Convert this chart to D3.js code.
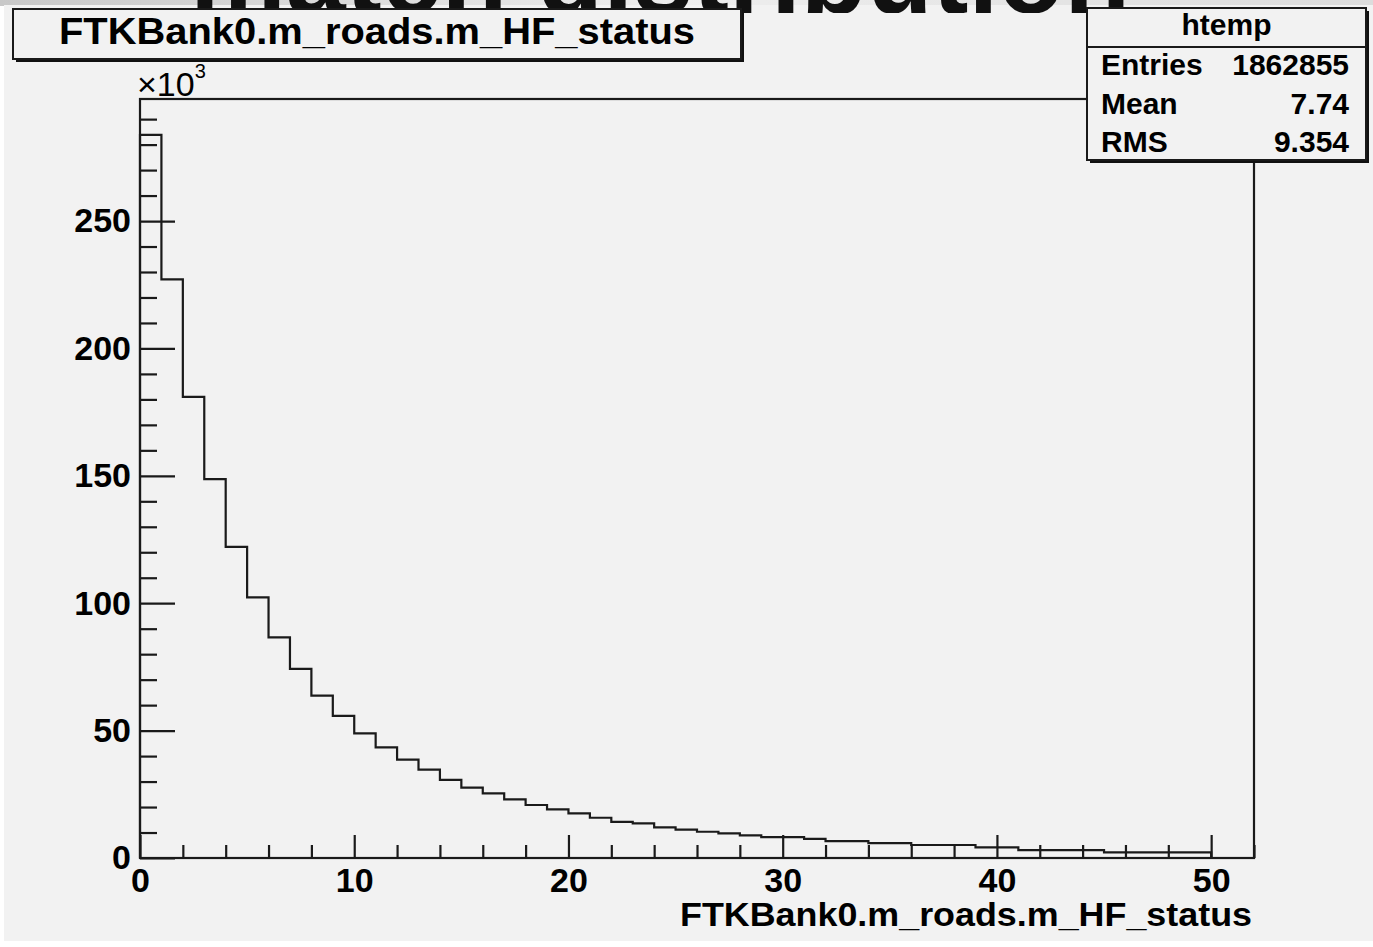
<!DOCTYPE html>
<html>
<head>
<meta charset="utf-8">
<script src="https://cdn.jsdelivr.net/npm/d3@7/dist/d3.min.js"></script>
<style>
  html, body { margin: 0; padding: 0; background: #ffffff; }
  svg { display: block; }
  text { font-family: "Liberation Sans", Arial, Helvetica, sans-serif; }
</style>
</head>
<body>
<svg id="chart" width="1373" height="947"></svg>
<script>
// ---- data (counts in thousands, bin [i, i+1]) ----
const binStarts = [0,1,2,3,4,5,6,7,8,9,10,11,12,13,14,15,16,17,18,19,20,21,22,23,24,25,26,27,28,29,30,31,32,33,34,35,36,37,38,39,40,41,42,43,44,45,46,47,48,49];
const counts = [283.8,227.1,181.0,148.7,122.1,102.3,86.6,74.2,63.7,55.8,48.9,43.4,38.6,34.7,30.7,27.6,25.4,23.0,20.8,19.1,17.5,15.8,14.2,13.6,12.0,11.1,10.3,9.7,8.9,8.2,8.2,7.5,6.6,6.6,5.8,5.8,5.1,5.1,5.1,4.2,4.2,3.1,3.1,3.1,3.1,2.2,2.2,2.2,2.2,2.2];
const binWidth = 1;
const xMajorTicks = [0,10,20,30,40,50];
const xMinorTicks = [2,4,6,8,12,14,16,18,22,24,26,28,32,34,36,38,42,44,46,48,52];
const yMajorTicks = [0,50,100,150,200,250];
const yMinorTicks = [10,20,30,40,60,70,80,90,110,120,130,140,160,170,180,190,210,220,230,240,260,270,280,290];
const titleText = "FTKBank0.m_roads.m_HF_status";
const xAxisTitle = "FTKBank0.m_roads.m_HF_status";
const statsName = "htemp";
const statsRows = [["Entries","1862855"],["Mean","7.74"],["RMS","9.354"]];
const xDomain = [0, 52];
const yDomain = [0, 297.9];

const svg = d3.select("#chart");
const W = 1373, H = 947;
const frame = {left: 140, right: 1254, top: 99, bottom: 858};
const ink = "#1a1a1a";

const defs = svg.append("defs");
const grad = defs.append("linearGradient").attr("id","topg").attr("x1","0").attr("x2","1");
grad.append("stop").attr("offset","0").attr("stop-color","#c8c8c8");
grad.append("stop").attr("offset","0.5").attr("stop-color","#eeeeee");
grad.append("stop").attr("offset","1").attr("stop-color","#dcdcdc");
defs.append("clipPath").attr("id","topclip").append("rect")
  .attr("x",0).attr("y",0).attr("width",W).attr("height",13);

// top strip (cropped slide heading)
svg.append("rect").attr("x",0).attr("y",0).attr("width",W).attr("height",6).attr("fill","url(#topg)");
// canvas background
svg.append("rect").attr("x",4).attr("y",5).attr("width",W-4).attr("height",936).attr("fill","#f2f2f2");
svg.append("g").attr("clip-path","url(#topclip)")
  .append("text").attr("x",190).attr("y",13).attr("font-size",110).attr("font-weight","bold")
  .attr("textLength",940).attr("lengthAdjust","spacingAndGlyphs").attr("fill","#111")
  .text("match distribution");

const x = d3.scaleLinear().domain(xDomain).range([frame.left, frame.right]);
const y = d3.scaleLinear().domain(yDomain).range([frame.bottom, frame.top]);

// histogram outline
const pts = [[x(binStarts[0]), y(0)]];
binStarts.forEach((b,i) => {
  pts.push([x(b), y(counts[i])]);
  pts.push([x(b+binWidth), y(counts[i])]);
});
pts.push([x(binStarts[binStarts.length-1]+binWidth), y(0)]);
svg.append("path").attr("d", d3.line()(pts)).attr("fill","none").attr("stroke",ink).attr("stroke-width",2.2);

// axes
function styleAxis(g){
  g.select(".domain").remove();
  g.selectAll(".tick line").attr("stroke",ink).attr("stroke-width",2.2);
  g.selectAll(".tick text").attr("fill","#000").attr("font-weight","bold")
    .attr("font-family",'"Liberation Sans", Arial, sans-serif');
}
const yMinor = svg.append("g").attr("transform",`translate(${frame.left},0)`)
  .call(d3.axisLeft(y).tickValues(yMinorTicks).tickSize(-17).tickFormat(""));
styleAxis(yMinor);
const yMajor = svg.append("g").attr("transform",`translate(${frame.left},0)`)
  .call(d3.axisLeft(y).tickValues(yMajorTicks).tickSize(-35).tickPadding(9).tickFormat(d3.format("d")));
styleAxis(yMajor);
yMajor.selectAll(".tick text").attr("font-size",34);

const xMinor = svg.append("g").attr("transform",`translate(0,${frame.bottom})`)
  .call(d3.axisBottom(x).tickValues(xMinorTicks).tickSize(-13).tickFormat(""));
styleAxis(xMinor);
const xMajor = svg.append("g").attr("transform",`translate(0,${frame.bottom})`)
  .call(d3.axisBottom(x).tickValues(xMajorTicks).tickSize(-23).tickPadding(10).tickFormat(d3.format("d")));
styleAxis(xMajor);
xMajor.selectAll(".tick text").attr("font-size",34);

// frame
svg.append("rect").attr("x",frame.left).attr("y",frame.top)
  .attr("width",frame.right-frame.left).attr("height",frame.bottom-frame.top)
  .attr("fill","none").attr("stroke",ink).attr("stroke-width",2.2);

// x10^3
const mult = svg.append("text").attr("x",137).attr("y",96).attr("font-size",34).attr("fill","#000");
mult.append("tspan").text("\u00d710");
mult.append("tspan").attr("font-size",20).attr("dy",-18).text("3");

// x axis title
svg.append("text").attr("x",1252).attr("y",926).attr("text-anchor","end")
  .attr("font-size",34).attr("font-weight","bold").attr("textLength",572).attr("lengthAdjust","spacingAndGlyphs")
  .text(xAxisTitle);

// title box
const tb = {x:13, y:9, w:728, h:50};
svg.append("rect").attr("x",tb.x+3).attr("y",tb.y+3).attr("width",tb.w).attr("height",tb.h).attr("fill","#111");
svg.append("rect").attr("x",tb.x).attr("y",tb.y).attr("width",tb.w).attr("height",tb.h)
  .attr("fill","#f2f2f2").attr("stroke",ink).attr("stroke-width",2);
svg.append("text").attr("x",tb.x+tb.w/2).attr("y",44).attr("text-anchor","middle")
  .attr("font-size",36).attr("font-weight","bold").attr("textLength",636).attr("lengthAdjust","spacingAndGlyphs")
  .text(titleText);

// stats box
const sb = {x:1087, y:8, w:279, h:152};
svg.append("rect").attr("x",sb.x+3).attr("y",sb.y+3).attr("width",sb.w).attr("height",sb.h).attr("fill","#111");
svg.append("rect").attr("x",sb.x).attr("y",sb.y).attr("width",sb.w).attr("height",sb.h)
  .attr("fill","#f2f2f2").attr("stroke",ink).attr("stroke-width",2);
svg.append("line").attr("x1",sb.x).attr("x2",sb.x+sb.w).attr("y1",47).attr("y2",47).attr("stroke",ink).attr("stroke-width",2);
svg.append("text").attr("x",sb.x+sb.w/2).attr("y",35).attr("text-anchor","middle")
  .attr("font-size",30).attr("font-weight","bold").text(statsName);
const rowY = [75, 114, 152];
statsRows.forEach((r,i) => {
  svg.append("text").attr("x",1101).attr("y",rowY[i]).attr("font-size",30).attr("font-weight","bold").text(r[0]);
  svg.append("text").attr("x",1349).attr("y",rowY[i]).attr("text-anchor","end").attr("font-size",30).attr("font-weight","bold").text(r[1]);
});
</script>
</body>
</html>
